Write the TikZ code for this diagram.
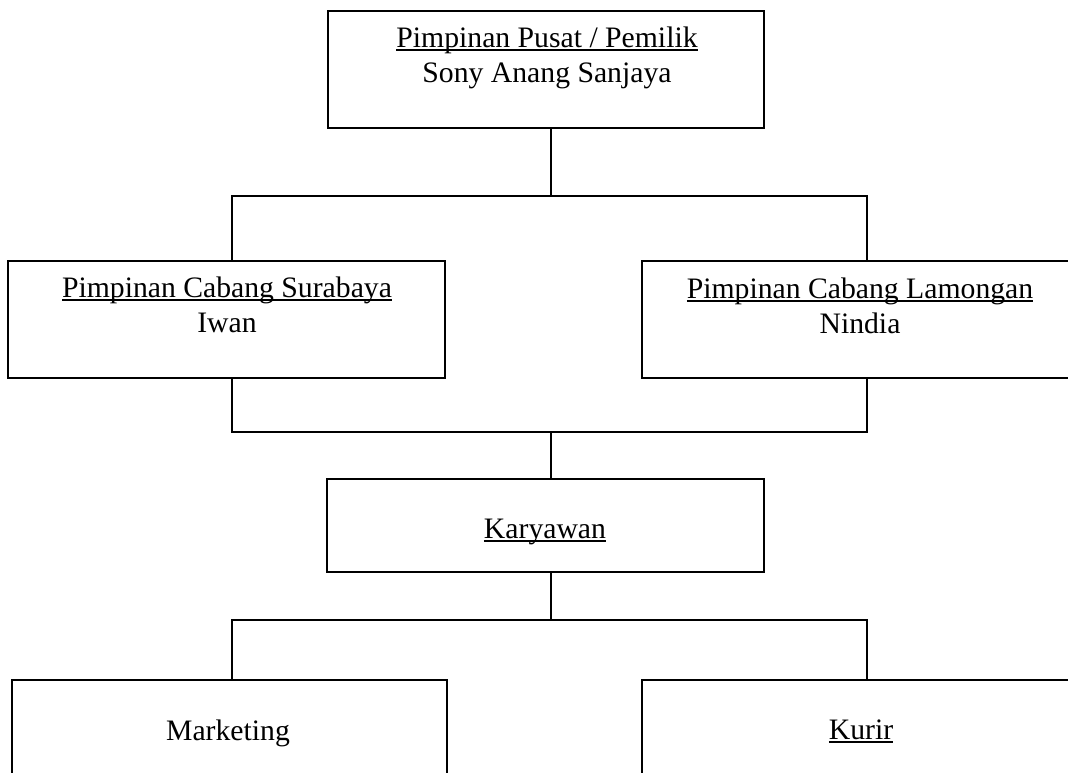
\documentclass[tikz,border=0pt]{standalone}
\usepackage{fontspec}
\setmainfont{Liberation Serif}
\usetikzlibrary{positioning}

\newcommand{\garisbawah}[1]{\setbox0\hbox{#1}\rlap{\rule[-4pt]{\wd0}{1.6pt}}\box0}

\tikzset{
  kotak/.style={draw, line width=1.3pt, minimum width=436pt, minimum height=117pt, inner sep=0pt},
  garis/.style={line width=1.1pt},
  teks/.style={anchor=base, inner sep=0pt, font=\fontsize{29.7}{35}\selectfont},
}

\begin{document}
\begin{tikzpicture}[x=1pt,y=1pt,yscale=-1]
        \useasboundingbox (0,0) rectangle (1068,772);
        \clip (0,0) rectangle (1068,772);

        % boxes
        \node [kotak] (pusat) at (546,69.5) {};
        \node [kotak, minimum width=437pt] (surabaya) at (226.5,319.5) {};
        \node [kotak] (lamongan) at (860,319.5) {};
        \node [kotak, minimum width=437pt, minimum height=93pt] (karyawan) at (545.5,525.5) {};
        \node [kotak, minimum width=435pt] (marketing) at (229.5,738.5) {};
        \node [kotak] (kurir) at (860,738.5) {};

        % texts
        \node [teks] (pusatjudul) at (547,47) {\garisbawah{Pimpinan Pusat / Pemilik}};
        \node [teks] (pusatnama) at (547,82) {Sony Anang Sanjaya};
        \node [teks] (surabayajudul) at (227,297) {\garisbawah{Pimpinan Cabang Surabaya}};
        \node [teks] (surabayanama) at (227,332) {Iwan};
        \node [teks] (lamonganjudul) at (860,298) {\garisbawah{Pimpinan Cabang Lamongan}};
        \node [teks] (lamongannama) at (860,333) {Nindia};
        \node [teks] (karyawanjudul) at (545,538) {\garisbawah{Karyawan}};
        \node [teks] (marketingjudul) at (228,740) {Marketing};
        \node [teks] (kurirjudul) at (861,739) {\garisbawah{Kurir}};

        % junctions
        \coordinate (kiri1) at (232,196);
        \coordinate (tengah1) at (551,196);
        \coordinate (kanan1) at (867,196);
        \coordinate (kiri2) at (232,432);
        \coordinate (tengah2) at (551,432);
        \coordinate (kanan2) at (867,432);
        \coordinate (kiri3) at (232,620);
        \coordinate (tengah3) at (551,620);
        \coordinate (kanan3) at (867,620);

        % connectors
        \draw [garis] (pusat.south -| tengah1) -- (tengah1);
        \draw [garis] (surabaya.north -| kiri1) -- (kiri1) -- (kanan1) -- (lamongan.north -| kanan1);
        \draw [garis] (surabaya.south -| kiri2) -- (kiri2) -- (kanan2) -- (lamongan.south -| kanan2);
        \draw [garis] (tengah2) -- (karyawan.north -| tengah2);
        \draw [garis] (karyawan.south -| tengah3) -- (tengah3);
        \draw [garis] (marketing.north -| kiri3) -- (kiri3) -- (kanan3) -- (kurir.north -| kanan3);

\end{tikzpicture}
\end{document}
